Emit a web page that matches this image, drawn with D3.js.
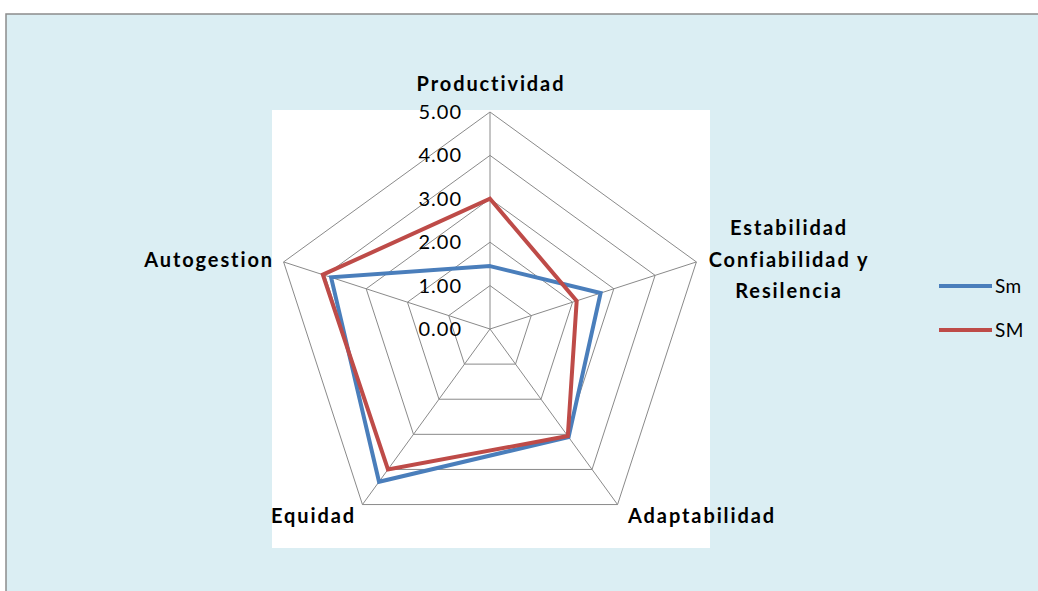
<!DOCTYPE html>
<html>
<head>
<meta charset="utf-8">
<script src="https://cdn.jsdelivr.net/npm/d3@7"></script>
<style>
  html, body { margin: 0; padding: 0; background: #ffffff; }
  svg { display: block; }
  text { font-family: Lato, "Open Sans", sans-serif; }
</style>
</head>
<body>
<svg id="chart" width="1038" height="591"></svg>
<script>
// Radar axes, clockwise from the top
const categories = ["Productividad", "Estabilidad Confiabilidad y Resilencia", "Adaptabilidad", "Equidad", "Autogestion"];
const categoryLines = [["Productividad"], ["Estabilidad", "Confiabilidad y", "Resilencia"], ["Adaptabilidad"], ["Equidad"], ["Autogestion"]];
const seriesNames = ["Sm", "SM"];
const smValues = [1.45, 2.68, 3.08, 4.35, 3.85];
const bigSMValues = [3.0, 2.1, 3.05, 4.0, 4.05];
const tickValues = [0, 1, 2, 3, 4, 5];
const seriesColors = ["#4A7EBB", "#BE4B48"];

const svg = d3.select("#chart");

// Chart area frame
svg.append("rect").attr("x", 6).attr("y", 14).attr("width", 1040).attr("height", 590)
  .attr("fill", "#DBEEF3").attr("stroke", "#8c8c8c").attr("stroke-width", 1.5);

// Plot area
svg.append("rect").attr("x", 272).attr("y", 110).attr("width", 438).attr("height", 438).attr("fill", "#ffffff");

const cx = 490, cy = 329, R = 217;
const r = d3.scaleLinear().domain([0, 5]).range([0, R]);
const n = categories.length;
const angle = i => i * 2 * Math.PI / n;
const pt = (i, v) => [cx + r(v) * Math.sin(angle(i)), cy - r(v) * Math.cos(angle(i))];

const g = svg.append("g");

// Concentric pentagon grid
tickValues.filter(t => t > 0).forEach(t => {
  g.append("path")
    .attr("d", d3.line()(d3.range(n).map(i => pt(i, t))) + "Z")
    .attr("fill", "none").attr("stroke", "#8a8a8a").attr("stroke-width", 1);
});
// Spokes
d3.range(n).forEach(i => {
  const [x, y] = pt(i, 5);
  g.append("line").attr("x1", cx).attr("y1", cy).attr("x2", x).attr("y2", y)
    .attr("stroke", "#8a8a8a").attr("stroke-width", 1);
});

// Series polygons
[smValues, bigSMValues].forEach((vals, s) => {
  g.append("path")
    .attr("d", d3.line()(vals.map((v, i) => pt(i, v))) + "Z")
    .attr("fill", "none").attr("stroke", seriesColors[s]).attr("stroke-width", 4)
    .attr("stroke-linejoin", "miter");
});

// Value ticks along the top spoke
tickValues.forEach(t => {
  g.append("text").attr("x", cx - 28).attr("y", cy - r(t) + 7)
    .attr("text-anchor", "end").attr("font-size", 20).attr("letter-spacing", 1).attr("fill", "#000")
    .text(d3.format(".2f")(t));
});

// Category labels
const labelPos = [
  { x: 491, y: 91, anchor: "middle" },
  { x: 789, y: 235, anchor: "middle" },
  { x: 628, y: 523, anchor: "start" },
  { x: 271, y: 523, anchor: "start" },
  { x: 274, y: 267, anchor: "end" }
];
categoryLines.forEach((lines, i) => {
  const p = labelPos[i];
  const t = svg.append("text").attr("x", p.x).attr("y", p.y)
    .attr("text-anchor", p.anchor).attr("font-size", 20).attr("font-weight", "bold")
    .attr("letter-spacing", 1.9).attr("fill", "#000");
  lines.forEach((ln, k) => {
    t.append("tspan").attr("x", p.x).attr("dy", k === 0 ? 0 : 31.5).text(ln);
  });
});

// Legend
seriesNames.forEach((name, s) => {
  const y = 286 + s * 44;
  svg.append("line").attr("x1", 939).attr("x2", 992).attr("y1", y).attr("y2", y)
    .attr("stroke", seriesColors[s]).attr("stroke-width", 4);
  svg.append("text").attr("x", 995).attr("y", y + 7).attr("font-size", 19).attr("letter-spacing", 0.5)
    .attr("fill", "#000").text(name);
});
</script>
</body>
</html>
